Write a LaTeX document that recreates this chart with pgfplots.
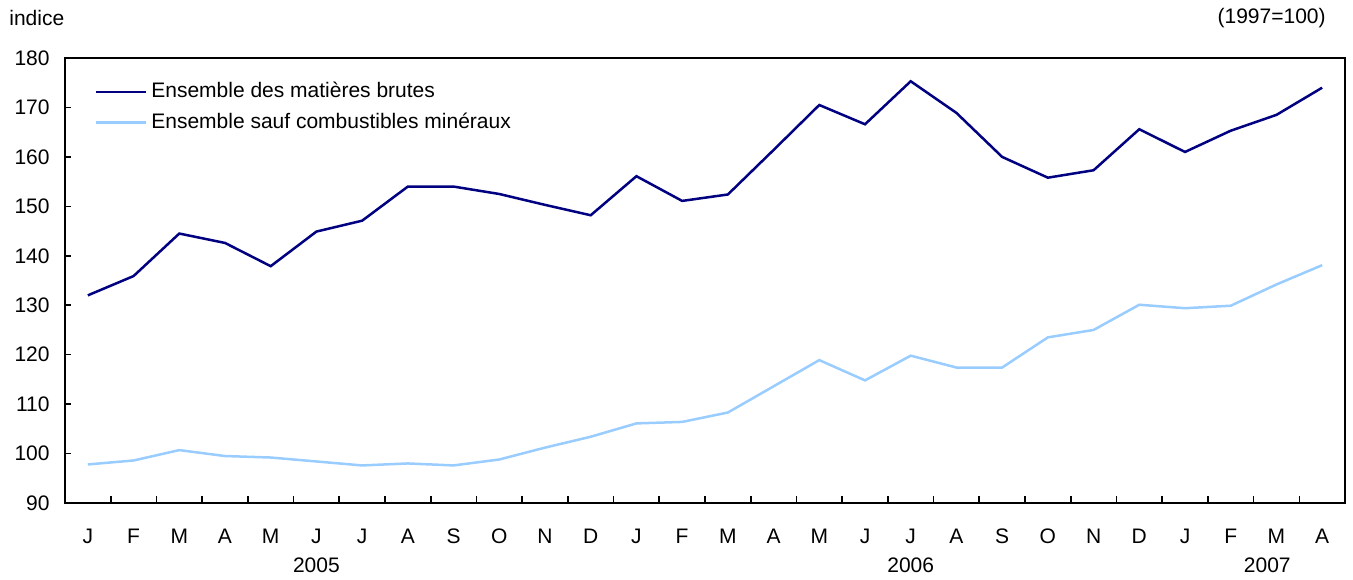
\documentclass[border=0pt]{standalone}
\usepackage{fontspec}
\setmainfont{Liberation Sans}
\usepackage{pgfplots}
\pgfplotsset{compat=1.18}
\definecolor{dark}{RGB}{0,0,128}
\definecolor{light}{RGB}{153,204,255}
\begin{document}
\fontsize{10.5}{12}\selectfont
\begin{tikzpicture}
\path[use as bounding box] (-32.5pt,-38pt) rectangle (644pt,251.5pt);
\begin{axis}[
  at={(0,0)}, anchor=south west,
  scale only axis, width=640pt, height=222.5pt,
  xmin=-0.5, xmax=27.5, ymin=90, ymax=180,
  ytick={90,100,...,180},
  xtick={0,...,27},
  xticklabels={J,F,M,A,M,J,J,A,S,O,N,D,J,F,M,A,M,J,J,A,S,O,N,D,J,F,M,A},
  minor xtick={0.5,1.5,...,26.5},
  major x tick style={draw=none},
  tick align=inside,
  xtick pos=bottom, ytick pos=left,
  major tick length=3pt, minor tick length=3.5pt,
  tick style={black, line width=0.8pt},
  axis line style={black, line width=1pt},
  /pgf/number format/assume math mode=true,
  tick label style={font=\fontsize{10.5}{12}\selectfont},
  xticklabel style={yshift=-9pt, text height=7.5pt, text depth=0pt},
  yticklabel style={xshift=-4pt},
  clip=false,
  legend style={at={(0.023,0.955)}, anchor=north west, draw=none, fill=none,
    font=\fontsize{10.5}{12}\selectfont, row sep=2pt, inner sep=0pt},
  legend cell align=left,
  legend image code/.code={\draw[#1] (0pt,0pt) -- (25pt,0pt);},
]
\addplot[dark, line width=1.25pt] coordinates {
(0,132.0)(1,135.9)(2,144.5)(3,142.6)(4,137.9)(5,144.9)(6,147.1)(7,154.0)(8,154.0)(9,152.5)(10,150.3)(11,148.2)
(12,156.1)(13,151.1)(14,152.4)(15,161.4)(16,170.5)(17,166.6)(18,175.3)(19,168.9)(20,160.0)(21,155.8)(22,157.3)(23,165.6)
(24,161.0)(25,165.3)(26,168.5)(27,174.0)};
\addlegendentry{Ensemble des matières brutes}
\addplot[light, line width=1.25pt] coordinates {
(0,97.8)(1,98.6)(2,100.7)(3,99.5)(4,99.2)(5,98.4)(6,97.6)(7,98.0)(8,97.6)(9,98.8)(10,101.2)(11,103.4)
(12,106.1)(13,106.4)(14,108.3)(15,113.6)(16,118.9)(17,114.8)(18,119.8)(19,117.4)(20,117.4)(21,123.5)(22,125.0)(23,130.1)
(24,129.4)(25,129.9)(26,134.2)(27,138.1)};
\addlegendentry{Ensemble sauf combustibles minéraux}
\node[yshift=-31pt] at (axis cs:5,90) {2005};
\node[yshift=-31pt] at (axis cs:18,90) {2006};
\node[yshift=-31pt] at (axis cs:25.8,90) {2007};
\end{axis}
\node[anchor=west] at (-31.5pt,242.5pt) {indice};
\node[anchor=east] at (634pt,242.5pt) {(1997=100)};
\end{tikzpicture}
\end{document}
